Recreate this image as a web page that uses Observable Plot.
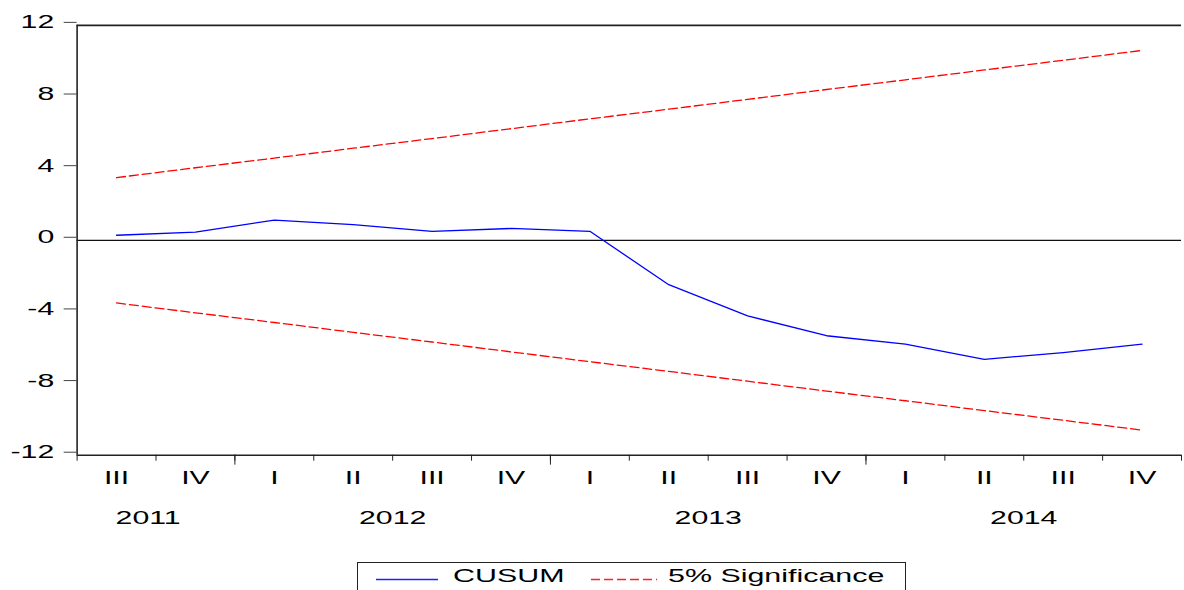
<!DOCTYPE html>
<html>
<head>
<meta charset="utf-8">
<script src="https://cdn.jsdelivr.net/npm/d3@7"></script>
<script src="https://cdn.jsdelivr.net/npm/@observablehq/plot@0.6"></script>
<style>
  html, body { margin: 0; padding: 0; background: #fff; overflow: hidden; width: 1184px; height: 590px; }
  #chart { position: relative; width: 1184px; height: 545px; overflow: hidden; }
  #legend { position: absolute; left: 357px; top: 562px; width: 549px; height: 40px; border: 1px solid #222; box-sizing: border-box; background: #fff; }
  #legend svg { position: absolute; left: 0; top: 0; }
  #legend .lbl { position: absolute; top: 3px; font: 19px "Liberation Sans", Arial, sans-serif; line-height: 19px; color: #000; transform: scaleX(1.6); transform-origin: left center; white-space: nowrap; }
</style>
</head>
<body>
<div id="chart"></div>
<div id="legend">
  <span class="lbl" style="left:95px">CUSUM</span>
  <span class="lbl" style="left:310px">5% Significance</span>
</div>
<script>
// ---- data ----
const quarters = ["III","IV","I","II","III","IV","I","II","III","IV","I","II","III","IV"];
const cusum = [0.28, 0.46, 1.13, 0.88, 0.50, 0.66, 0.50, -2.48, -4.22, -5.33, -5.80, -6.65, -6.27, -5.80];
const upper = [3.50, 4.05, 4.59, 5.14, 5.68, 6.23, 6.78, 7.32, 7.87, 8.42, 8.96, 9.51, 10.05, 10.60];
const lower = [-3.50, -4.05, -4.59, -5.14, -5.68, -6.23, -6.78, -7.32, -7.87, -8.42, -8.96, -9.51, -10.05, -10.60];
const years = ["2011", "2012", "2013", "2014"];
const yearAt = [0.4, 3.5, 7.5, 11.5];        // label anchor, in quarter-index units
const yearBreaks = [1.5, 5.5, 9.5];          // boundaries between years
const yTicks = [-12, -8, -4, 0, 4, 8, 12];

const idx = quarters.map((_, i) => i);
const rows = idx.map(i => ({i, q: quarters[i], cusum: cusum[i], upper: upper[i], lower: lower[i]}));
const bounds = d3.range(-0.5, quarters.length, 1);
const yearRows = years.map((y, k) => ({y, x: yearAt[k]}));

const chart = Plot.plot({
  width: 1190,
  height: 545,
  marginLeft: 77,
  marginRight: 3,
  marginTop: 25,
  marginBottom: 88,
  style: {fontFamily: "'Liberation Sans', Arial, sans-serif", fontSize: "19px", color: "#000", background: "#fff"},
  x: {domain: [-0.5, quarters.length - 0.5]},
  y: {domain: [-12, 12]},
  marks: [
    Plot.ruleY([0], {stroke: "#111", strokeWidth: 1.2}),
    Plot.line(rows, {x: "i", y: "upper", stroke: "#ff0000", strokeWidth: 1.3, strokeDasharray: "9,4"}),
    Plot.line(rows, {x: "i", y: "lower", stroke: "#ff0000", strokeWidth: 1.3, strokeDasharray: "9,4"}),
    Plot.line(rows, {x: "i", y: "cusum", stroke: "#0000ff", strokeWidth: 1.3}),
    // frame (left, top, bottom)
    Plot.ruleX([-0.5], {stroke: "#222", strokeWidth: 1.6}),
    Plot.ruleY([12], {stroke: "#222", strokeWidth: 1.6}),
    Plot.ruleY([-12], {stroke: "#222", strokeWidth: 1.6}),
    // y axis
    Plot.axisY({ticks: yTicks, tickSize: 13, tickPadding: 10, tickFormat: d => String(d), dy: -3, stroke: "#444", label: null}),
    // x axis: short ticks at quarter boundaries, longer at year breaks
    Plot.axisX({ticks: bounds, tickSize: 6, tickFormat: () => "", stroke: "#222", label: null}),
    Plot.axisX({ticks: yearBreaks, tickSize: 10, tickFormat: () => "", stroke: "#222", label: null}),
    // quarter and year labels
    Plot.text(rows, {x: "i", y: () => -12, text: "q", dy: 23, fill: "#000"}),
    Plot.text(yearRows, {x: "x", y: () => -12, text: "y", dy: 63, fill: "#000"})
  ]
});

// stretch glyphs horizontally like the reference rendering (scale about each label's anchor)
chart.querySelectorAll("text").forEach(t => {
  const tr = t.getAttribute("transform");
  if (tr) t.setAttribute("transform", tr + " scale(1.6,1)");
});
document.getElementById("chart").appendChild(chart);

// legend swatches
const sw = d3.create("svg").attr("width", 300).attr("height", 30);
sw.append("line").attr("x1", 18).attr("x2", 80).attr("y1", 16.5).attr("y2", 16.5)
  .style("stroke", "#2020ff").style("stroke-width", "1.5px");
sw.append("line").attr("x1", 233).attr("x2", 299).attr("y1", 16.5).attr("y2", 16.5)
  .style("stroke", "#ff2020").style("stroke-width", "1.5px").style("stroke-dasharray", "9,4");
document.getElementById("legend").prepend(sw.node());
</script>
</body>
</html>
